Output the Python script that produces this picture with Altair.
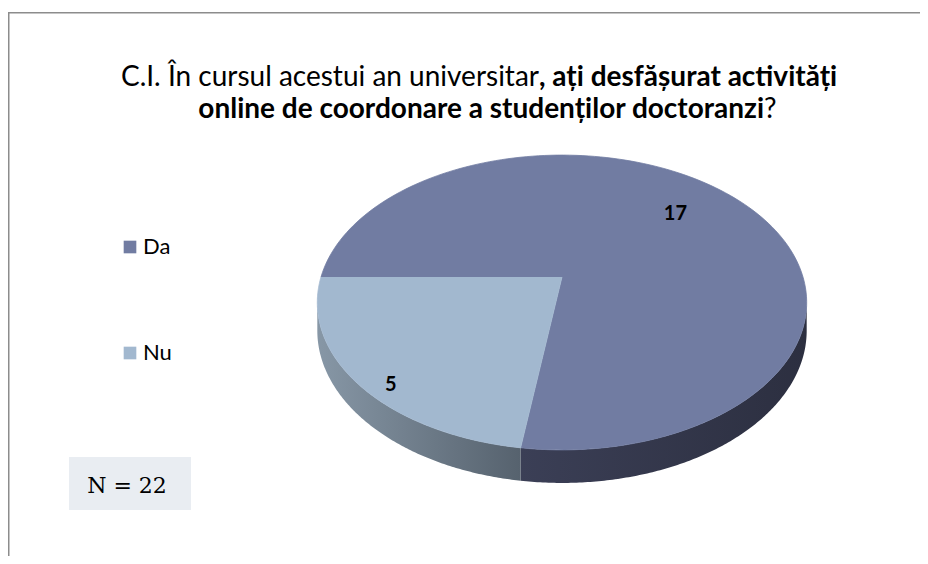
import math
import altair as alt
import pandas as pd

# ---------------- data ----------------
categories = ["Da", "Nu"]
values = [17, 5]
title_line1 = ["C.I. În cursul acestui an universitar", ", ați desfășurat activități"]
title_line2 = ["online de coordonare a studenților doctoranzi", "?"]

# ---------------- style ----------------
colors_top = ["#717CA2", "#A2B8CF"]
W, H = 912, 548
CX, VY = 554, 269          # pie centre (view px)
A, B, K, DEPTH = 241, 143, 0.173, 27.3
START = 270                # angle of first slice (clockwise from 12 o'clock)
N = 160
FRONT0 = 360 + math.degrees(math.acos(-K))
FRONT1 = 720 - math.degrees(math.acos(-K))
FONT = "Lato"

xs = alt.Scale(domain=[0, W], nice=False, zero=False)
ys = alt.Scale(domain=[0, H], nice=False, zero=False, reverse=True)

df = pd.DataFrame({"cat": categories, "val": values, "idx": list(range(len(categories)))})

base = (
    alt.Chart(df)
    .transform_joinaggregate(total="sum(val)")
    .transform_window(cum="sum(val)", sort=[alt.SortField("idx")], frame=[None, 0])
    .transform_calculate(
        a0=f"{START} + 360 * (datum.cum - datum.val) / datum.total",
        a1=f"{START} + 360 * datum.cum / datum.total",
    )
)

# top face of each slice
top = (
    base.transform_calculate(steps=f"sequence(0, {N + 2})")
    .transform_flatten(["steps"])
    .transform_calculate(
        phi=f"(datum.a0 + (datum.a1 - datum.a0) * max(datum.steps - 1, 0) / {N}) * PI / 180",
        px=f"datum.steps == 0 ? {CX} : {CX} + {A} * sin(datum.phi) / (1 + {K} * cos(datum.phi))",
        py=f"datum.steps == 0 ? {VY} : {VY} - {B} * cos(datum.phi) / (1 + {K} * cos(datum.phi))",
    )
    .mark_line(filled=True, strokeWidth=0.8)
    .encode(
        x=alt.X("px:Q", scale=xs, axis=None),
        y=alt.Y("py:Q", scale=ys, axis=None),
        color=alt.Color(
            "cat:N",
            scale=alt.Scale(domain=categories, range=colors_top),
            legend=alt.Legend(
                title=None, orient="none", legendX=111, legendY=228,
                direction="vertical", symbolType="square", symbolSize=160,
                symbolStrokeWidth=0, labelFont=FONT, labelFontSize=22,
                labelColor="#000000", rowPadding=84, labelOffset=2,
            ),
        ),
        stroke=alt.Stroke("cat:N", scale=alt.Scale(domain=categories, range=colors_top), legend=None),
        order="steps:Q",
        detail="cat:N",
    )
)

# side walls
side = (
    base.transform_calculate(
        s0=f"max(datum.a0, {FRONT0})",
        s1=f"min(datum.a1, {FRONT1})",
    )
    .transform_filter("datum.s1 > datum.s0")
    .transform_calculate(steps=f"sequence(0, {N + 1})")
    .transform_flatten(["steps"])
    .transform_calculate(
        phi=f"(datum.s0 + (datum.s1 - datum.s0) * datum.steps / {N}) * PI / 180",
        den=f"1 + {K} * cos(datum.phi)",
        px=f"{CX} + {A} * sin(datum.phi) / datum.den",
        ptop=f"{VY} - {B} * cos(datum.phi) / datum.den",
        pbot=f"{VY} - {B} * cos(datum.phi) / datum.den + {DEPTH} / datum.den",
    )
)

def side_layer(cat, c1, c2):
    return side.transform_filter(alt.datum.cat == cat).mark_area(
        color=alt.Gradient(
            gradient="linear", x1=0, x2=1, y1=0, y2=0,
            stops=[alt.GradientStop(color=c1, offset=0), alt.GradientStop(color=c2, offset=1)],
        )
    ).encode(
        x=alt.X("px:Q", scale=xs, axis=None),
        y=alt.Y("ptop:Q", scale=ys, axis=None),
        y2="pbot:Q",
    )

side_da = side_layer("Da", "#3B3F56", "#2C2F40")
side_nu = side_layer("Nu", "#8797A6", "#56626E")

# value labels
labels = (
    base.transform_calculate(
        mid="(datum.a0 + datum.a1) / 2 * PI / 180",
        r="datum.idx == 0 ? 0.67 : 0.85",
        dy="datum.idx == 0 ? -5 : 20",
        den=f"1 + {K} * datum.r * cos(datum.mid)",
        px=f"{CX} + {A} * datum.r * sin(datum.mid) / datum.den",
        py=f"{VY} - {B} * datum.r * cos(datum.mid) / datum.den + datum.dy",
    )
    .mark_text(font=FONT, fontWeight="bold", fontSize=20, color="#000000")
    .encode(
        x=alt.X("px:Q", scale=xs, axis=None),
        y=alt.Y("py:Q", scale=ys, axis=None),
        text="val:Q",
    )
)

# N box
total = base.transform_aggregate(total="sum(val)").transform_calculate(label="'N = ' + datum.total")
nbox = total.mark_rect(color="#E9EDF2").encode(
    x=alt.value(61), x2=alt.value(183), y=alt.value(449), y2=alt.value(502)
)
ntext = total.mark_text(font="DejaVu Serif", fontSize=22, color="#000000").encode(
    x=alt.value(119), y=alt.value(478), text="label:N"
)

# frame
frame = total.mark_rect(fill=None, stroke="#8C8C8C", strokeWidth=1.5).encode(
    x=alt.value(0.75), x2=alt.value(W + 20), y=alt.value(4.75), y2=alt.value(H + 20)
)

# title parts
def title_part(txt, x, y, align, weight):
    return alt.Chart(pd.DataFrame({"t": [txt]})).mark_text(
        font=FONT, fontSize=28, fontWeight=weight, align=align, baseline="alphabetic", color="#000000"
    ).encode(text="t:N", x=alt.value(x), y=alt.value(y))

titles = [
    title_part(title_line1[0], 531, 78, "right", "normal"),
    title_part(title_line1[1], 531, 78, "left", "bold"),
    title_part(title_line2[0], 756, 110, "right", "bold"),
    title_part(title_line2[1], 756, 110, "left", "normal"),
]

chart = alt.layer(frame, side_da, side_nu, top, labels, nbox, ntext, *titles).properties(
    width=W, height=H, padding=0, autosize=alt.AutoSizeParams(type="none"), background="#FFFFFF"
).configure_view(stroke=None)

chart.save("out.html", embed_options={"renderer": "svg", "actions": False})
